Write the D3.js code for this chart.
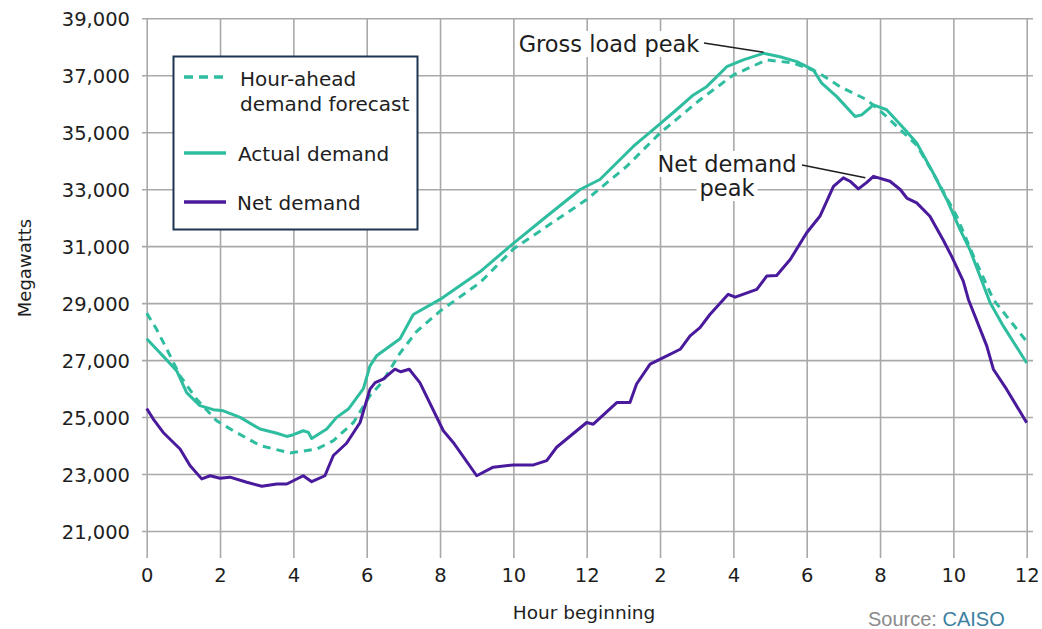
<!DOCTYPE html>
<html>
<head>
<meta charset="utf-8">
<script src="https://cdn.jsdelivr.net/npm/d3@7/dist/d3.min.js"></script>
<style>
  html, body { margin: 0; padding: 0; background: #fff; overflow: hidden; }
  svg { display: block; font-family: "DejaVu Sans", sans-serif; }
</style>
</head>
<body>
<svg id="chart" width="1042" height="629"></svg>
<script>
// ---- Data (hour of day, megawatts) ----
const forecastHours = [0,0.27,0.55,0.91,1.36,1.91,2.36,3.09,3.91,4.64,5.09,5.64,6.09,6.45,6.91,7.36,8.0,9.09,10.0,12.0,13.09,14.0,15.09,16.0,16.91,17.64,18.27,18.91,19.64,20.18,20.5,21.0,21.5,22.09,22.55,23.09,24.0];
const forecastMW    = [28650,28080,27380,26450,25630,24870,24520,24000,23740,23880,24170,24810,25750,26270,27250,28000,28720,29720,30900,32640,33800,34970,36140,37010,37540,37430,37130,36600,36140,35550,35150,34550,33450,32050,30650,29130,27650];

const actualHours = [0,0.27,0.55,0.82,1.09,1.45,1.82,2.09,2.55,3.09,3.55,3.82,4.0,4.27,4.41,4.5,4.91,5.18,5.5,5.91,6.09,6.27,6.91,7.27,8.0,9.09,10.0,10.91,11.82,12.36,13.27,13.91,14.45,14.91,15.27,15.55,15.82,16.27,16.82,17.27,17.73,18.18,18.41,18.82,19.32,19.5,19.82,20.18,20.64,21.0,21.45,21.82,22.18,22.45,23.0,23.36,24.0];
const actualMW    = [27750,27380,27000,26620,25860,25400,25260,25220,24990,24580,24430,24320,24380,24520,24460,24250,24580,24990,25280,26000,26800,27150,27750,28600,29130,30100,31100,32050,32990,33340,34500,35200,35790,36310,36600,36950,37300,37540,37770,37650,37480,37190,36720,36250,35550,35610,35960,35790,35150,34620,33570,32640,31590,30880,29020,28200,26900];

const netHours = [0,0.18,0.45,0.91,1.18,1.5,1.73,2.0,2.27,2.73,3.14,3.55,3.82,4.27,4.5,4.86,5.09,5.45,5.82,6.09,6.23,6.45,6.77,6.93,7.16,7.45,8.09,8.36,9.0,9.45,10.0,10.55,10.91,11.18,12.0,12.18,12.82,13.18,13.36,13.73,14.09,14.55,14.82,15.09,15.36,15.86,16.05,16.64,16.91,17.18,17.55,18.0,18.36,18.73,19.0,19.18,19.41,19.64,19.82,20.27,20.55,20.73,21.0,21.36,21.73,21.95,22.27,22.41,22.91,23.09,23.45,24.0];
const netMW    = [25300,24930,24460,23880,23300,22830,22940,22850,22890,22710,22570,22650,22650,22940,22730,22940,23650,24080,24810,25980,26210,26330,26680,26590,26680,26210,24520,24110,22940,23240,23320,23320,23470,23940,24810,24750,25510,25510,26160,26860,27090,27380,27850,28140,28600,29310,29210,29480,29950,29970,30530,31470,32050,33100,33400,33280,33010,33240,33450,33280,32990,32690,32520,32050,31200,30650,29770,29130,27500,26680,25980,24800];

const xTickValues = [0,2,4,6,8,10,12,14,16,18,20,22,24];
const xTickLabels = ["0","2","4","6","8","10","12","2","4","6","8","10","12"];
const yTickValues = [21000,23000,25000,27000,29000,31000,33000,35000,37000,39000];

const legendLabels = [["Hour-ahead","demand forecast"],["Actual demand"],["Net demand"]];

// ---- Layout ----
const TEAL = "#2fbd9f", PURPLE = "#4a1a9c", GRID = "#a9a9a9", TEXT = "#1e1e1e";
const svg = d3.select("#chart");
const x = d3.scaleLinear().domain([0,24]).range([146.7,1026.7]);
const y = d3.scaleLinear().domain([21000,39000]).range([531,18.3]);

// grid + axes
const yAxis = d3.axisLeft(y).tickValues(yTickValues).tickFormat(d3.format(","))
  .tickSize(-(1033-142)).tickPadding(12);
const gy = svg.append("g").attr("transform","translate(142,0)").call(yAxis);
gy.select(".domain").remove();
gy.selectAll("line").attr("stroke",GRID).attr("stroke-width",1.6);
gy.selectAll("text").attr("fill",TEXT).style("font-size","19.5px").attr("dy","0.36em")
  .style("font-family","'DejaVu Sans', sans-serif");

const xAxis = d3.axisBottom(x).tickValues(xTickValues)
  .tickFormat((d,i)=>xTickLabels[i]).tickSize(-(558-18.3)).tickPadding(10);
const gx = svg.append("g").attr("transform","translate(0,558)").call(xAxis);
gx.select(".domain").remove();
gx.selectAll("line").attr("stroke",GRID).attr("stroke-width",1.6);
gx.selectAll("text").attr("fill",TEXT).style("font-size","19.5px")
  .style("font-family","'DejaVu Sans', sans-serif");

// axis titles
svg.append("text").attr("x",584).attr("y",619).attr("text-anchor","middle")
  .attr("fill",TEXT).style("font-size","18.5px").text("Hour beginning");
svg.append("text").attr("transform","translate(31,268) rotate(-90)").attr("text-anchor","middle")
  .attr("fill",TEXT).style("font-size","18px").text("Megawatts");

// lines
const line = d3.line().x(d=>x(d[0])).y(d=>y(d[1]));
const zip = (a,b)=>a.map((v,i)=>[v,b[i]]);
svg.append("path").datum(zip(forecastHours,forecastMW)).attr("d",line)
  .attr("fill","none").attr("stroke",TEAL).attr("stroke-width",3).attr("stroke-dasharray","8,6");
svg.append("path").datum(zip(actualHours,actualMW)).attr("d",line)
  .attr("fill","none").attr("stroke",TEAL).attr("stroke-width",3).attr("stroke-linejoin","round");
svg.append("path").datum(zip(netHours,netMW)).attr("d",line)
  .attr("fill","none").attr("stroke",PURPLE).attr("stroke-width",3).attr("stroke-linejoin","round");

// annotations
function annot(lines, cx, y0, lh, x1, y1, x2, y2) {
  const g = svg.append("g");
  lines.forEach((t,i)=>{
    const tx = g.append("text").attr("x",cx).attr("y",y0+i*lh).attr("text-anchor","middle")
      .attr("fill",TEXT).style("font-size","22.5px").text(t);
    const bb = tx.node().getBBox();
    g.insert("rect","text").attr("x",bb.x-3).attr("y",bb.y).attr("width",bb.width+6)
      .attr("height",bb.height).attr("fill","#fff");
  });
  g.append("line").attr("x1",x1).attr("y1",y1).attr("x2",x2).attr("y2",y2)
    .attr("stroke",TEXT).attr("stroke-width",1.6);
}
annot(["Gross load peak"], 609, 52, 0, 704, 43, x(16.82), y(37770)-1);
annot(["Net demand","peak"], 727, 172, 24, 802, 165, x(19.6), y(33330)-2);

// legend
const lg = svg.append("g");
lg.append("rect").attr("x",173.5).attr("y",56.5).attr("width",244).attr("height",173)
  .attr("fill","#fff").attr("stroke","#1c3553").attr("stroke-width",2);
const legendItems = [
  {color:TEAL, dash:"9,6", ys:[86,111], ly:77, tx:240},
  {color:TEAL, dash:null, ys:[161], ly:153, tx:238},
  {color:PURPLE, dash:null, ys:[210], ly:202, tx:237}
];
legendItems.forEach((it,i)=>{
  lg.append("line").attr("x1",184).attr("x2",226).attr("y1",it.ly).attr("y2",it.ly)
    .attr("stroke",it.color).attr("stroke-width",3.5).attr("stroke-dasharray",it.dash);
  legendLabels[i].forEach((t,j)=>{
    lg.append("text").attr("x",it.tx).attr("y",it.ys[j])
      .attr("fill",TEXT).style("font-size","20px").text(t);
  });
});

// source
const src = svg.append("text").attr("x",868).attr("y",626).style("font-size","20px")
  .style("font-family","'Liberation Sans', Arial, sans-serif");
src.append("tspan").attr("fill","#8a8a8a").text("Source: ");
src.append("tspan").attr("fill","#3c7fa0").text("CAISO");
</script>
</body>
</html>
